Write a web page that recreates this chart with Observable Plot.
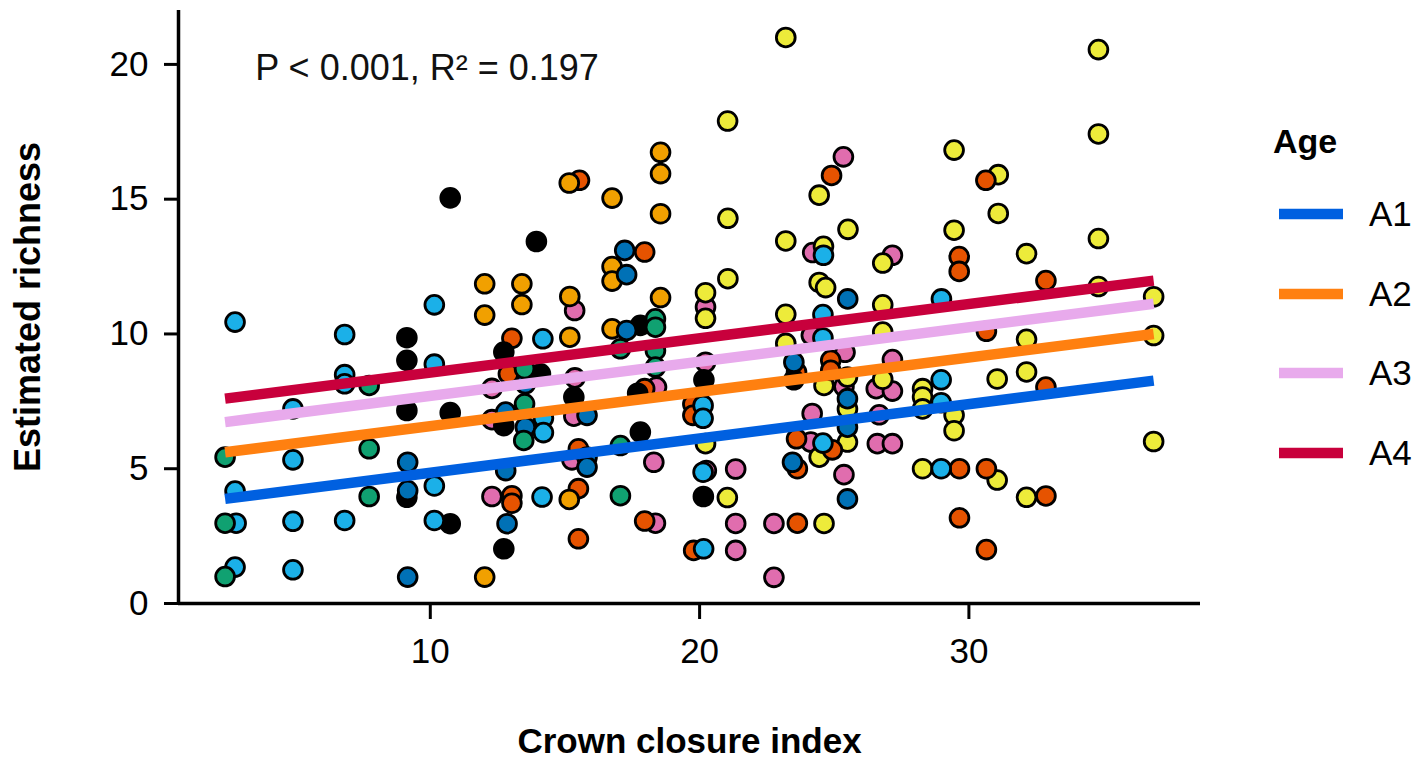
<!DOCTYPE html>
<html>
<head>
<meta charset="utf-8">
<script src="https://cdn.jsdelivr.net/npm/d3@7"></script>
<script src="https://cdn.jsdelivr.net/npm/@observablehq/plot@0.6"></script>
<style>
  html, body { margin: 0; padding: 0; background: #ffffff; }
  #wrap { position: relative; width: 1420px; height: 761px; font-family: "Liberation Sans", Arial, Helvetica, sans-serif; }
  #wrap svg { display: block; }
  #legend { position: absolute; left: 0; top: 0; pointer-events: none; }
</style>
</head>
<body>
<div id="wrap"></div>
<script>
// ---------------- data ----------------
const xDomain = [0.65, 38.6];
const yDomain = [0, 22];
const xTicks = [10, 20, 30];
const yTicks = [0, 5, 10, 15, 20];
const xLabel = "Crown closure index";
const yLabel = "Estimated richness";
const annotText = "P < 0.001, R² = 0.197";
const annotPos = [3.5, 19.85];

// regression lines by age class (parallel fits)
const ageLevels = ["A1", "A2", "A3", "A4"];
const lineX = [2.38, 36.86];
const lineStartY = [3.88, 5.61, 6.73, 7.60];
const lineEndY = [8.27, 10.00, 11.12, 11.98];

// observations, grouped by point colour group
const ptsPink = [[15.36,10.87],[12.29,7.98],[15.37,8.37],[12.29,6.82],[15.33,6.95],[15.26,5.33],[18.3,5.24],[12.29,3.97],[18.36,2.98],[18.4,8.03],[20.22,11.0],[20.22,8.95],[20.25,4.93],[21.34,4.99],[21.34,2.97],[21.34,1.97],[22.76,2.97],[22.76,0.97],[25.34,16.57],[24.2,13.02],[27.16,12.92],[24.15,9.95],[25.4,9.32],[25.36,8.05],[26.56,7.97],[27.16,7.88],[24.18,7.05],[26.67,7.0],[24.13,5.99],[26.6,5.93],[27.16,5.93],[25.36,4.78],[27.16,9.05]];
const ptsYellow = [[23.2,21.0],[21.04,17.9],[21.05,14.29],[24.44,15.15],[25.51,13.88],[23.2,13.45],[24.6,13.25],[26.8,12.63],[21.05,12.05],[24.44,11.91],[24.68,11.72],[20.22,11.53],[20.22,10.58],[23.2,10.73],[26.8,11.08],[26.8,10.07],[23.2,9.65],[24.62,8.09],[25.49,8.4],[26.8,8.32],[25.49,7.22],[20.22,5.93],[25.49,5.99],[24.44,5.43],[21.03,3.93],[24.62,2.97],[34.81,20.55],[34.81,17.42],[29.45,16.82],[31.09,15.91],[31.09,14.47],[29.45,13.85],[34.81,13.54],[32.14,12.98],[34.81,11.76],[36.86,11.38],[32.14,9.8],[36.86,9.94],[31.05,8.33],[32.14,8.59],[28.28,7.97],[28.28,7.66],[28.28,7.22],[29.45,6.99],[29.45,6.41],[36.86,6.01],[28.28,5.0],[31.05,4.58],[32.14,3.94]];
const ptsVermillion = [[15.54,15.7],[17.96,13.04],[13.03,9.84],[12.9,8.52],[17.96,7.97],[15.5,5.74],[13.03,4.0],[13.03,3.72],[15.5,4.26],[17.96,3.06],[15.5,2.4],[19.75,7.4],[19.75,6.98],[19.78,1.97],[24.9,15.88],[23.6,8.58],[24.87,9.02],[24.87,8.65],[23.6,6.11],[24.93,5.7],[23.63,5.0],[23.63,2.98],[30.63,15.7],[29.64,12.87],[29.64,12.32],[32.86,11.98],[30.65,10.1],[32.86,8.03],[29.65,5.0],[30.65,5.0],[32.86,3.99],[29.65,3.18],[30.65,2.0]];
const ptsOrange = [[12.02,11.86],[13.4,11.86],[13.4,11.09],[12.02,10.7],[15.16,15.6],[16.75,15.04],[18.55,16.74],[18.55,15.95],[18.55,14.46],[16.75,12.5],[16.75,11.96],[15.18,11.39],[18.55,11.35],[15.18,9.88],[16.75,10.19],[15.16,3.86],[12.02,0.98]];
const ptsBlack = [[9.13,9.86],[9.13,9.02],[9.13,7.16],[9.13,3.94],[10.74,15.05],[10.74,7.08],[10.74,2.96],[13.94,13.43],[12.73,9.33],[14.09,8.52],[12.73,6.6],[12.73,2.03],[15.33,7.66],[17.8,10.32],[17.7,7.8],[17.8,6.36],[20.16,8.3],[20.14,3.97],[23.5,8.3]];
const ptsBlue = [[9.16,5.24],[9.16,4.19],[9.16,0.98],[12.8,7.1],[12.8,4.93],[12.85,2.96],[13.53,8.15],[13.53,6.54],[15.82,6.98],[15.82,5.43],[15.82,5.06],[17.22,13.1],[17.29,12.2],[17.29,10.13],[23.5,8.95],[23.45,5.24],[25.5,11.3],[25.49,7.6],[25.49,6.54],[25.49,3.88]];
const ptsSky = [[2.75,10.44],[6.82,9.98],[6.82,8.49],[6.82,8.15],[4.9,7.22],[4.9,5.33],[2.75,4.17],[2.79,2.98],[4.9,3.05],[6.82,3.08],[2.75,1.35],[4.9,1.25],[10.15,11.08],[10.15,8.88],[10.15,4.36],[10.15,3.08],[14.18,9.82],[14.2,6.88],[14.2,6.34],[14.15,3.95],[20.13,7.35],[20.13,6.87],[20.13,4.87],[20.15,2.03],[24.6,12.92],[24.58,10.72],[24.58,9.85],[24.58,5.95],[28.98,11.3],[28.97,8.3],[28.97,7.45],[28.97,5.0]];
const ptsGreen = [[2.38,5.43],[7.73,8.09],[7.73,5.74],[7.73,3.97],[2.38,2.98],[2.38,1.0],[13.5,8.71],[13.5,7.41],[13.47,6.05],[17.06,9.45],[17.06,5.86],[17.06,4.0],[18.36,10.56],[18.36,10.25],[18.36,9.39],[18.36,8.77]];

// ---------------- styles ----------------
const groupPoints = [ptsPink, ptsYellow, ptsVermillion, ptsOrange, ptsBlack, ptsBlue, ptsSky, ptsGreen];
const groupColors = ["#E06DAE", "#EDEB3A", "#E65300", "#F1A000", "#000000", "#0071B6", "#1BB0E8", "#10A171"];
const ageColors = ["#0060E0", "#FF8010", "#E8AAEC", "#C8003C"];
const FONT = "'Liberation Sans', Arial, Helvetica, sans-serif";

// ---------------- build ----------------
const lineData = ageLevels.map((a, i) => [
  {age: a, x: lineX[0], y: lineStartY[i]},
  {age: a, x: lineX[1], y: lineEndY[i]}
]);

const marks = [];
groupPoints.forEach((pts, gi) => {
  marks.push(Plot.dot(pts, {
    x: d => d[0], y: d => d[1], r: 9.4,
    fill: groupColors[gi], stroke: "#000", strokeWidth: 2.8
  }));
});
lineData.forEach((seg, i) => {
  marks.push(Plot.line(seg, {x: "x", y: "y", stroke: ageColors[i], strokeWidth: 10.5, strokeLinecap: "butt"}));
});
marks.push(
  Plot.ruleX([xDomain[0]], {stroke: "#000", strokeWidth: 3.5}),
  Plot.ruleY([yDomain[0]], {stroke: "#000", strokeWidth: 3.5}),
  Plot.axisX({ticks: xTicks, tickSize: 16, tickPadding: 19, fontSize: 35, label: null, strokeWidth: 3, tickFormat: d => String(d)}),
  Plot.axisY({ticks: yTicks, tickSize: 14, tickPadding: 16, fontSize: 35, label: null, strokeWidth: 3, tickFormat: d => String(d)}),
  Plot.text([annotText], {x: annotPos[0], y: annotPos[1], text: d => d, textAnchor: "start", lineAnchor: "middle", fontSize: 36, fill: "#111"}),
  Plot.text([xLabel], {frameAnchor: "bottom", dy: 138, text: d => d, textAnchor: "middle", lineAnchor: "middle", fontSize: 35, fontWeight: "bold", fill: "#000"}),
  Plot.text([yLabel], {frameAnchor: "left", dx: -150, rotate: -90, text: d => d, textAnchor: "middle", lineAnchor: "middle", fontSize: 36, fontWeight: "bold", fill: "#000"})
);

const chart = Plot.plot({
  width: 1420,
  height: 761,
  marginLeft: 178,
  marginRight: 220,
  marginTop: 10,
  marginBottom: 158,
  x: {domain: xDomain},
  y: {domain: yDomain},
  style: {fontFamily: FONT, background: "#ffffff", color: "#000"},
  marks
});
const wrap = document.getElementById("wrap");
wrap.appendChild(chart);

// ---------------- legend (right side) ----------------
const leg = d3.select(wrap).append("svg")
  .attr("id", "legend").attr("width", 1420).attr("height", 761)
  .style("font-family", FONT);
leg.append("text").attr("x", 1273).attr("y", 153)
  .attr("font-size", 34).attr("font-weight", "bold").text("Age");
const legY = [214, 294, 373, 453];
ageLevels.forEach((a, i) => {
  leg.append("line").attr("x1", 1279).attr("x2", 1343).attr("y1", legY[i]).attr("y2", legY[i])
    .attr("stroke", ageColors[i]).attr("stroke-width", 10.5);
  leg.append("text").attr("x", 1369).attr("y", legY[i]).attr("dy", "0.35em")
    .attr("font-size", 35).text(a);
});
</script>
</body>
</html>
